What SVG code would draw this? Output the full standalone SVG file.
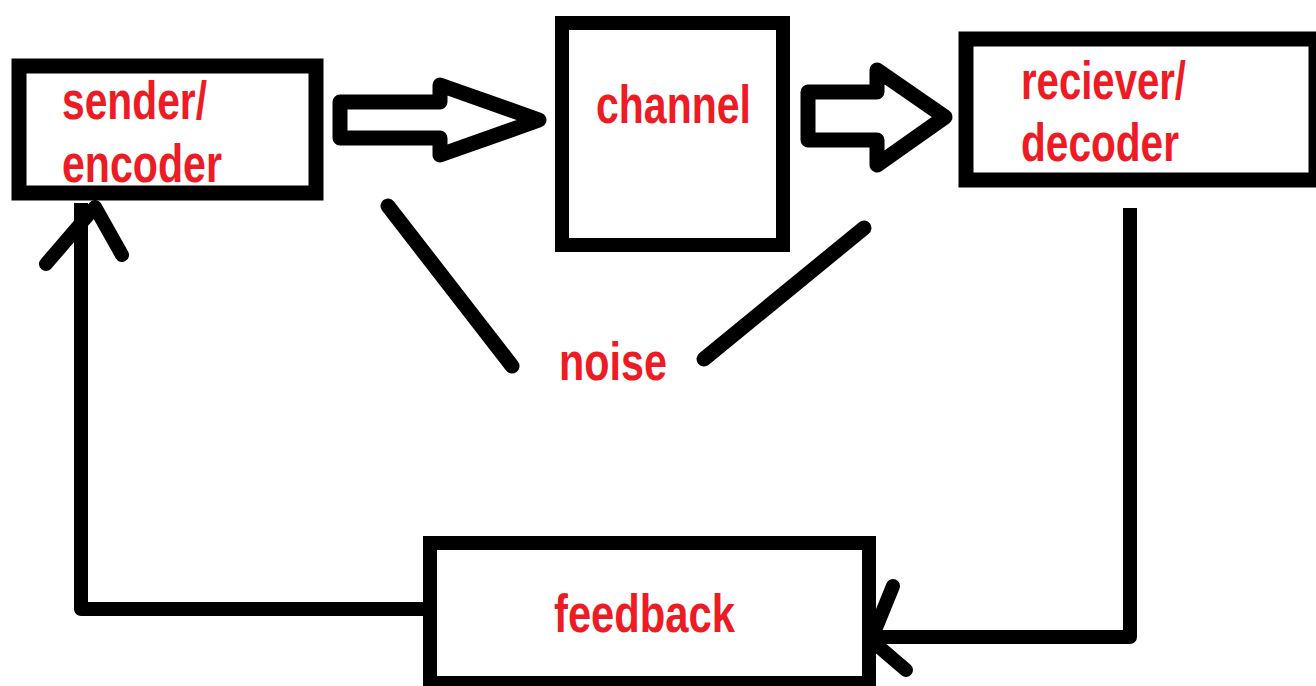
<svg xmlns="http://www.w3.org/2000/svg" width="1316" height="686" viewBox="0 0 1316 686">
  <style>
    .box { fill: #ffffff; stroke: #000000; stroke-width: 15; }
    .label { font-family: "Liberation Sans", Arial, sans-serif; font-size: 53px; font-weight: bold; fill: #ED1C24; }
    .line { fill: none; stroke: #000000; stroke-width: 14; stroke-linecap: round; stroke-linejoin: round; }
    .block { fill: #ffffff; stroke: #000000; stroke-width: 15; stroke-linejoin: round; }
  </style>
  <rect width="1316" height="686" fill="#ffffff"/>

  <g id="sender">
    <rect class="box" x="19" y="66" width="297" height="127"/>
    <text class="label" x="62" y="119" textLength="145" lengthAdjust="spacingAndGlyphs">sender/</text>
    <text class="label" x="62" y="182" textLength="160" lengthAdjust="spacingAndGlyphs">encoder</text>
  </g>

  <g id="channel">
    <rect class="box" x="562" y="23" width="221" height="222" style="stroke-width:14"/>
    <text class="label" x="596" y="123" textLength="155" lengthAdjust="spacingAndGlyphs">channel</text>
  </g>

  <g id="receiver">
    <rect class="box" x="966" y="39" width="350" height="141"/>
    <text class="label" x="1021" y="99" textLength="165" lengthAdjust="spacingAndGlyphs">reciever/</text>
    <text class="label" x="1021" y="161" textLength="158" lengthAdjust="spacingAndGlyphs">decoder</text>
  </g>

  <g id="noise">
    <text class="label" x="559" y="380" textLength="108" lengthAdjust="spacingAndGlyphs">noise</text>
  </g>

  <g id="feedback">
    <rect class="box" x="430" y="543" width="439" height="140" style="stroke-width:14"/>
    <text class="label" x="554" y="632" textLength="181" lengthAdjust="spacingAndGlyphs">feedback</text>
  </g>

  <g id="connectors">
    <!-- hollow block arrows along the message path -->
    <path class="block" d="M340,102 H440 V85 L539,120 L440,155 V138 H340 Z"/>
    <path class="block" d="M808,92 H877 V70 L945,117 L877,165 V140 H808 Z"/>
    <!-- noise strokes -->
    <path class="line" d="M388,206 L512,366" style="stroke-width:15"/>
    <path class="line" d="M864,228 L704,359" style="stroke-width:15"/>
    <!-- receiver to feedback -->
    <path class="line" d="M1130,208 V637 H872" style="stroke-linecap:butt"/>
    <path class="line" d="M893,586 L871,640 L906,670"/>
    <!-- feedback back to sender -->
    <path class="line" d="M424,609 H81 V203" style="stroke-linecap:butt"/>
    <path class="line" d="M46,264 L95,207 L122,255"/>
  </g>
</svg>
